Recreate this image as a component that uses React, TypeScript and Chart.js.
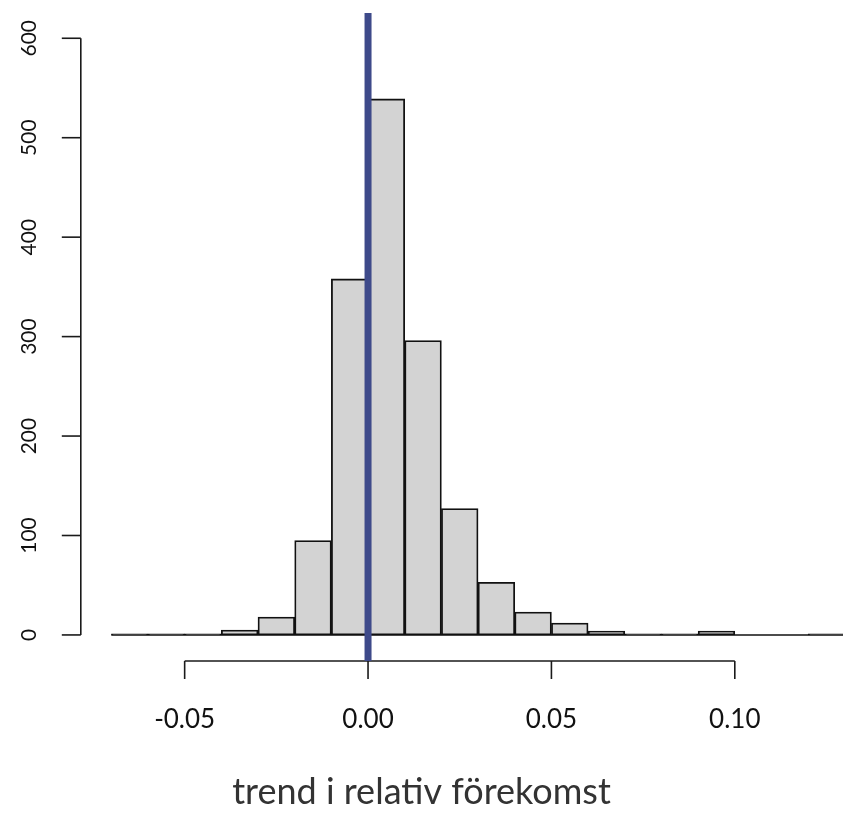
import { useEffect, useRef } from "react";
import { Chart, registerables } from "chart.js";

Chart.register(...registerables);

// Histogram bins (left edges) and counts
const binStarts = [
  -0.07, -0.06, -0.05, -0.04, -0.03, -0.02, -0.01, 0.0, 0.01, 0.02,
  0.03, 0.04, 0.05, 0.06, 0.07, 0.08, 0.09, 0.1, 0.11, 0.12,
];
const binWidth = 0.01;
const counts = [1, 1, 1, 5, 18, 95, 358, 539, 296, 127, 53, 23, 12, 4, 1, 1, 4, 0, 0, 1];

const xTicks = [-0.05, 0.0, 0.05, 0.1];
const xTickLabels = ["-0.05", "0.00", "0.05", "0.10"];
const yTicks = [0, 100, 200, 300, 400, 500, 600];
const yTickLabels = ["0", "100", "200", "300", "400", "500", "600"];
const refLineX = 0;
const xTitle = "trend i relativ förekomst";

const FONT = "Lato, 'Open Sans', sans-serif";

export default function App() {
  const canvasRef = useRef<HTMLCanvasElement | null>(null);

  useEffect(() => {
    const canvas = canvasRef.current;
    if (!canvas) return;

    const axesPlugin = {
      id: "rAxes",
      beforeDatasetsDraw(chart: any) {
        const { ctx, chartArea, scales } = chart;
        const xs = scales.x;
        const ys = scales.y;
        ctx.save();
        ctx.strokeStyle = "#1a1a1a";
        ctx.fillStyle = "#111111";
        ctx.lineWidth = 1.6;
        // y axis
        const ax = chartArea.left - 30.5;
        ctx.beginPath();
        ctx.moveTo(ax, ys.getPixelForValue(yTicks[0]));
        ctx.lineTo(ax, ys.getPixelForValue(yTicks[yTicks.length - 1]));
        ctx.stroke();
        ctx.font = `21px ${FONT}`;
        ctx.textAlign = "center";
        ctx.textBaseline = "middle";
        yTicks.forEach((t, i) => {
          const py = ys.getPixelForValue(t);
          ctx.beginPath();
          ctx.moveTo(ax, py);
          ctx.lineTo(ax - 19, py);
          ctx.stroke();
          ctx.save();
          ctx.translate(ax - 52, py);
          ctx.rotate(-Math.PI / 2);
          ctx.fillText(yTickLabels[i], 0, 0);
          ctx.restore();
        });
        // x axis
        const ay = chartArea.bottom;
        ctx.beginPath();
        ctx.moveTo(xs.getPixelForValue(xTicks[0]), ay);
        ctx.lineTo(xs.getPixelForValue(xTicks[xTicks.length - 1]), ay);
        ctx.stroke();
        ctx.font = `26px ${FONT}`;
        xTicks.forEach((t, i) => {
          const px = xs.getPixelForValue(t);
          ctx.beginPath();
          ctx.moveTo(px, ay);
          ctx.lineTo(px, ay + 18);
          ctx.stroke();
          ctx.fillText(xTickLabels[i], px, ay + 59);
        });
        // axis title
        ctx.fillStyle = "#333333";
        ctx.font = `36px ${FONT}`;
        ctx.fillText(xTitle, chart.width / 2, 792);
        ctx.restore();
      },
      afterDatasetsDraw(chart: any) {
        const { ctx, chartArea, scales } = chart;
        const xs = scales.x;
        const ys = scales.y;
        ctx.save();
        // baseline of histogram rectangles
        ctx.strokeStyle = "#111111";
        ctx.lineWidth = 1.4;
        ctx.beginPath();
        ctx.moveTo(xs.getPixelForValue(binStarts[0]), ys.getPixelForValue(0));
        ctx.lineTo(
          xs.getPixelForValue(binStarts[binStarts.length - 1] + binWidth),
          ys.getPixelForValue(0)
        );
        ctx.stroke();
        // reference line
        ctx.strokeStyle = "#3E4A8A";
        ctx.lineWidth = 7;
        const px = xs.getPixelForValue(refLineX);
        ctx.beginPath();
        ctx.moveTo(px, chartArea.top);
        ctx.lineTo(px, chartArea.bottom);
        ctx.stroke();
        ctx.restore();
      },
    };

    const chart = new Chart(canvas, {
      type: "bar",
      data: {
        datasets: [
          {
            data: binStarts.map((b, i) => ({ x: b + binWidth / 2, y: counts[i] })),
            backgroundColor: "#D3D3D3",
            borderColor: "#111111",
            borderWidth: 1.8,
            borderSkipped: false,
            barPercentage: 1,
            categoryPercentage: 1,
          },
        ],
      },
      options: {
        responsive: false,
        animation: false,
        layout: { padding: { left: 111.3, right: 0, top: 13, bottom: 172 } },
        plugins: { legend: { display: false }, tooltip: { enabled: false } },
        scales: {
          x: { type: "linear", offset: false, min: -0.07, max: 0.1295, display: false },
          y: { type: "linear", min: -26.2, max: 625.4, display: false },
        },
      },
      plugins: [axesPlugin],
    });

    return () => chart.destroy();
  }, []);

  return (
    <div style={{ position: "absolute", left: 0, top: 0, width: 843, height: 833, background: "#ffffff" }}>
      <canvas ref={canvasRef} width={843} height={833} style={{ display: "block" }} />
    </div>
  );
}
